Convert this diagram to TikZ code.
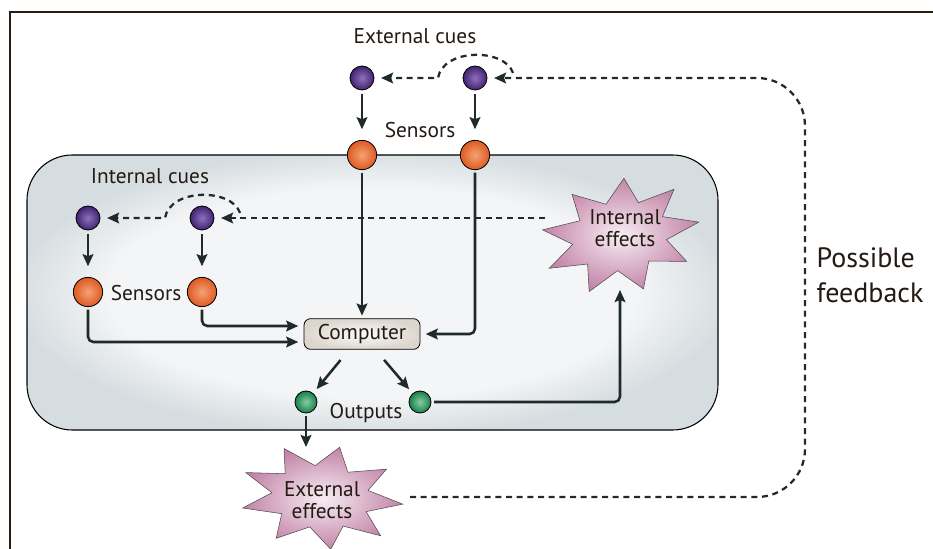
\documentclass[tikz,border=0pt]{standalone}
\usepackage{fontspec}
\setmainfont{PT Sans}
\usepackage{tikz}
\usetikzlibrary{arrows.meta,positioning,calc}
\definecolor{Ink}{HTML}{1F2A2A}
\definecolor{TextInk}{HTML}{231A14}
\definecolor{FrameInk}{HTML}{2A1E14}
\definecolor{CellEdge}{HTML}{D6DDE0}
\definecolor{CellMid}{HTML}{F4F5F6}
\definecolor{CuePurple}{HTML}{402370}
\definecolor{CuePurpleLight}{HTML}{9070BC}
\definecolor{SensorOrange}{HTML}{DD5A22}
\definecolor{SensorOrangeLight}{HTML}{F4A274}
\definecolor{OutGreen}{HTML}{17804A}
\definecolor{OutGreenLight}{HTML}{86CCA2}
\definecolor{BurstPink}{HTML}{C384A8}
\definecolor{BurstLight}{HTML}{F7EEF3}
\definecolor{CompEdge}{HTML}{DDD6CF}
\definecolor{CompMid}{HTML}{FBFAF8}

% light centre, darker rim
\pgfdeclareradialshading{cellshade}{\pgfpoint{0bp}{0bp}}{%
  color(0bp)=(CellMid); color(19bp)=(CellMid); color(26bp)=(CellEdge); color(50bp)=(CellEdge)}

% spiky outline for the effect bursts: centre, x radius, y radius, rotation
\newcommand{\effectburst}[4]{%
  \begin{scope}[shift={(#1)},rotate=#4,xscale=#2,yscale=#3]
    \path[burst] (0:1) \foreach \i in {1,...,17} {-- ({\i*20}:{ifthenelse(isodd(\i),0.6,1)})} -- cycle;
  \end{scope}}

\begin{document}
\begin{tikzpicture}[
  x=0.75pt, y=-0.75pt,
  font=\fontsize{16}{18}\selectfont,
  ball/.style={circle,draw=black,line width=0.6pt,inner sep=0pt},
  cue/.style={ball,minimum size=18pt,inner color=CuePurpleLight,outer color=CuePurple},
  sensor/.style={ball,minimum size=22pt,inner color=SensorOrangeLight,outer color=SensorOrange},
  output/.style={ball,minimum size=16.5pt,inner color=OutGreenLight,outer color=OutGreen},
  computer/.style={draw=black,line width=0.6pt,rounded corners=5pt,inner color=CompMid,outer color=CompEdge,
    minimum width=87pt,minimum height=23pt,inner sep=2pt,text=TextInk},
  burst/.style={draw=black!70,line width=0.4pt,inner color=BurstLight,outer color=BurstPink},
  label/.style={text=TextInk,inner sep=1pt},
  arrow/.style={-{Stealth[length=9pt,width=8pt,inset=1.5pt]},line width=1.9pt,draw=Ink,rounded corners=4pt},
  dotted link/.style={arrow,line width=1.7pt,dash pattern=on 4.5pt off 3.5pt}
]
  \useasboundingbox (0,0) rectangle (933,549);

  % frame
  \draw[FrameInk,line width=1.4pt] (933,12) -- (10,12) -- (10,549);

  % cell body
  \path[draw=black,line width=0.8pt,rounded corners=34pt,shading=cellshade]
    (27,155) rectangle (718,430);

  % external cues and their sensors
  \node[label] (extcues) at (415,36) {External cues};
  \node[cue] (ec1) at (362,78) {};
  \node[cue] (ec2) at (475,78) {};
  \node[sensor] (es1) at (362,155) {};
  \node[sensor] (es2) at (475,155) {};
  \node[label] (extsens) at (420,130) {Sensors};

  % internal cues and their sensors
  \node[label] (intcues) at (150,176) {Internal cues};
  \node[cue] (ic1) at (88,218) {};
  \node[cue] (ic2) at (202,218) {};
  \node[sensor] (is1) at (88,292) {};
  \node[sensor] (is2) at (202,292) {};
  \node[label] (intsens) at (146,293) {Sensors};

  % computer and outputs
  \node[computer] (comp) at (362,334) {Computer};
  \node[output] (out1) at (306,402) {};
  \node[output] (out2) at (420,402) {};
  \node[label] (outlbl) at (366,413) {Outputs};

  % effects
  \effectburst{620,236}{80}{57}{10}
  \effectburst{321,497}{82}{52}{-5}
  \node[label,align=center,font=\fontsize{16}{17}\selectfont] (inteff) at (625,228) {Internal\\effects};
  \node[label,align=center,font=\fontsize{16}{17}\selectfont] (exteff) at (322,500) {External\\effects};
  \coordinate (inteff-w) at (545,218);
  \coordinate (inteff-s) at (620,290);
  \coordinate (exteff-n) at (306,447);
  \coordinate (exteff-e) at (410,497);

  \node[label,align=left,anchor=west,font=\fontsize{21}{26}\selectfont] (fb) at (815,275) {Possible\\feedback};

  % cue -> sensor
  \draw[arrow,shorten <=3pt,shorten >=8pt] (ec1) -- (es1);
  \draw[arrow,shorten <=3pt,shorten >=8pt] (ec2) -- (es2);
  \draw[arrow,shorten <=3pt,shorten >=8pt] (ic1) -- (is1);
  \draw[arrow,shorten <=3pt,shorten >=8pt] (ic2) -- (is2);

  % sensors -> computer
  \draw[arrow,shorten <=2pt,shorten >=2pt] (es1) -- (comp);
  \draw[arrow,shorten <=2pt,shorten >=4pt] (es2) |- (comp.east);
  \draw[arrow,shorten <=2pt,shorten >=4pt] (is1) |- ($(comp.west)+(0,8)$);
  \draw[arrow,shorten <=2pt,shorten >=4pt] (is2) |- ($(comp.west)+(0,-8)$);

  % computer -> outputs -> effects
  \draw[arrow,shorten <=10pt,shorten >=4pt] (comp) -- (out1);
  \draw[arrow,shorten <=10pt,shorten >=4pt] (comp) -- (out2);
  \draw[arrow,shorten <=2pt] (out2) -| (inteff-s);
  \draw[arrow,shorten <=2pt] (out1) -- (exteff-n);

  % cue signals passing on
  \draw[dotted link,shorten >=5pt] (inteff-w) -- (ic2);
  \draw[dotted link,shorten >=5pt,rounded corners=0pt] ($(ic2)+(38,-5)$) .. controls ($(ic2)+(30,-30)$) and ($(ic2)+(-32,-30)$) .. ($(ic2)+(-37,0)$) -- (ic1);
  \draw[dotted link,shorten >=5pt,rounded corners=0pt] ($(ec2)+(38,-5)$) .. controls ($(ec2)+(30,-30)$) and ($(ec2)+(-32,-30)$) .. ($(ec2)+(-37,0)$) -- (ec1);

  % feedback loop
  \draw[dotted link,rounded corners=36pt,shorten >=5pt] (exteff-e) -- (805,497) -- (805,78) -- (ec2);
\end{tikzpicture}
\end{document}
